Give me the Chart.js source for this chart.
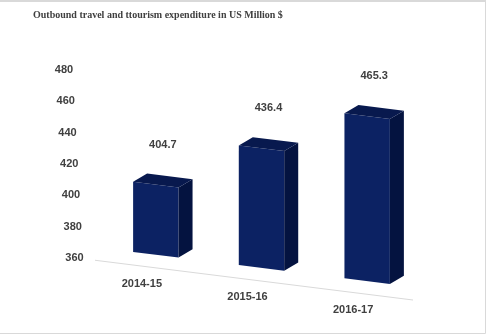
<!DOCTYPE html>
<html>
<head>
<meta charset="utf-8">
<script src="https://cdn.jsdelivr.net/npm/chart.js@4/dist/chart.umd.min.js"></script>
<style>
  html, body { margin: 0; padding: 0; background: #fff; }
  #wrap { position: relative; width: 488px; height: 335px; }
</style>
</head>
<body>
<div id="wrap"><canvas id="chart"></canvas></div>
<script>
// ========================
// DATA
// ========================
const categories = ["2014-15", "2015-16", "2016-17"];
const expenditure = [404.7, 436.4, 465.3];
const yMin = 360;
const yMax = 480;
const yStep = 20;

// ========================
// STYLE
// ========================
const TEXT = "#404040";
const FRONT = "#0c2263";
const SIDE = "#041340";
const TOP = "#08194e";
const LABEL_FONT = "bold 11px 'Liberation Sans', Arial, sans-serif";

// fake perspective: floor drops towards the right
const SHEAR = 0.125;
const PIVOT_X = 182;
const DEPTH_X = 14;
const DEPTH_Y = -10;

function shearY(x, y) {
  return y + SHEAR * (x - PIVOT_X);
}

const bar3d = {
  id: "bar3d",
  beforeDatasetsDraw(chart) {
    const { ctx, chartArea, scales } = chart;
    const base = scales.y.getPixelForValue(yMin);
    ctx.save();
    ctx.transform(1, SHEAR, 0, 1, 0, -SHEAR * PIVOT_X);

    // floor line in front of the bars
    ctx.strokeStyle = "#d9d9d9";
    ctx.lineWidth = 1;
    ctx.beginPath();
    ctx.moveTo(chartArea.left - 8, base + 13);
    ctx.lineTo(chartArea.right - 7, base + 13);
    ctx.stroke();
  },
  afterDatasetsDraw(chart) {
    const { ctx, chartArea, scales } = chart;
    const bars = chart.getDatasetMeta(0).data;

    bars.forEach((bar) => {
      const { x, y, base, width } = bar.getProps(["x", "y", "base", "width"], true);
      const l = x - width / 2;
      const r = x + width / 2;

      ctx.fillStyle = SIDE;
      ctx.beginPath();
      ctx.moveTo(r, y);
      ctx.lineTo(r + DEPTH_X, y + DEPTH_Y);
      ctx.lineTo(r + DEPTH_X, base + DEPTH_Y);
      ctx.lineTo(r, base);
      ctx.closePath();
      ctx.fill();

      ctx.fillStyle = TOP;
      ctx.beginPath();
      ctx.moveTo(l, y);
      ctx.lineTo(l + DEPTH_X, y + DEPTH_Y);
      ctx.lineTo(r + DEPTH_X, y + DEPTH_Y);
      ctx.lineTo(r, y);
      ctx.closePath();
      ctx.fill();
    });
    ctx.restore();

    ctx.save();
    ctx.font = LABEL_FONT;
    ctx.fillStyle = TEXT;
    ctx.textAlign = "center";
    ctx.textBaseline = "middle";

    // value labels
    bars.forEach((bar, i) => {
      const { x, y } = bar.getProps(["x", "y"], true);
      ctx.fillText(expenditure[i].toFixed(1), x + DEPTH_X / 2, shearY(x, y) - 40);
    });

    // category labels, following the floor
    const base = scales.y.getPixelForValue(yMin);
    categories.forEach((c, i) => {
      const lx = scales.x.getPixelForValue(i) - 14;
      ctx.fillText(c, lx, shearY(lx, base) + 31);
    });

    // value axis labels, leaning slightly
    scales.y.ticks.forEach((t) => {
      const py = scales.y.getPixelForValue(t.value);
      const px = scales.y.left + 31 + (py - chartArea.top) * 0.056;
      ctx.fillText(t.value, px, py);
    });
    ctx.restore();
  },
  afterDraw(chart) {
    const ctx = chart.ctx;
    ctx.save();
    ctx.strokeStyle = "#d9d9d9";
    ctx.lineWidth = 2;
    ctx.beginPath();
    ctx.moveTo(0, 1);
    ctx.lineTo(486, 1);
    ctx.stroke();
    ctx.lineWidth = 1;
    ctx.beginPath();
    ctx.moveTo(485.5, 0);
    ctx.lineTo(485.5, 333.5);
    ctx.lineTo(0, 333.5);
    ctx.stroke();
    ctx.restore();
  },
};

new Chart(document.getElementById("chart"), {
  type: "bar",
  data: {
    labels: categories,
    datasets: [
      {
        label: "Expenditure",
        data: expenditure,
        base: yMin,
        backgroundColor: FRONT,
        borderWidth: 0,
        barPercentage: 0.43,
        categoryPercentage: 1,
        clip: false,
      },
    ],
  },
  options: {
    responsive: true,
    maintainAspectRatio: false,
    animation: false,
    layout: { padding: { left: 33, right: 68, top: 0, bottom: 77 } },
    plugins: {
      legend: { display: false },
      tooltip: { enabled: false },
      title: {
        display: true,
        text: "Outbound travel and ttourism expenditure in US Million $",
        align: "start",
        color: TEXT,
        font: { family: "'Liberation Serif', 'DejaVu Serif', serif", size: 10, weight: "bold", lineHeight: 1.2 },
        padding: { top: 9, bottom: 49 },
      },
    },
    scales: {
      x: { display: false },
      y: {
        min: yMin,
        max: yMax,
        ticks: { stepSize: yStep, display: false },
        grid: { display: false },
        border: { display: false },
        afterFit: (scale) => {
          scale.width = 70;
        },
      },
    },
  },
  plugins: [bar3d],
});
</script>
</body>
</html>
